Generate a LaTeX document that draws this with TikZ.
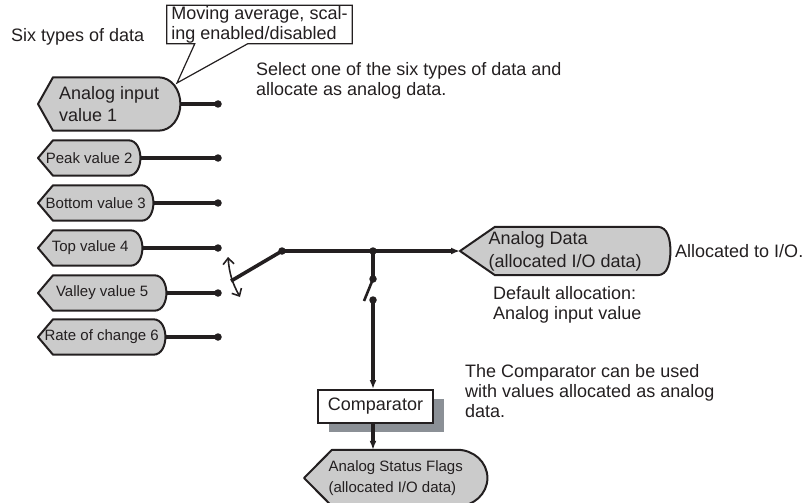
\documentclass[tikz,border=0pt]{standalone}
\usepackage{fontspec}
\setmainfont{Liberation Sans}
\usetikzlibrary{positioning,arrows.meta,calc,shadows,backgrounds}

\definecolor{ink}{HTML}{231F20}
\definecolor{tagfill}{HTML}{CBCBCB}
\definecolor{shade}{HTML}{8B9096}

% value tag: point on the left, rounded on the right
\newcommand{\tagshape}[3]{%
  \filldraw[tagline] (#1.west) -- ($(#1.north west)+(#2,0)$) -- ($(#1.north east)+(-#3,0)$)
    to[out=0,in=90] (#1.east) to[out=-90,in=0] ($(#1.south east)+(-#3,0)$)
    -- ($(#1.south west)+(#2,0)$) -- cycle;}

\begin{document}
\begin{tikzpicture}[
  x=1pt, y=1pt,
  every node/.style={font=\fontsize{18}{20}\selectfont, text=ink},
  small/.style={font=\fontsize{15}{18}\selectfont},
  tag/.style={inner sep=0pt, anchor=west, minimum height=35pt, align=center, small},
  tagline/.style={draw=ink, fill=tagfill, line width=2pt, line join=round},
  wire/.style={draw=ink, line width=3.6pt},
  dot/.style={circle, fill=ink, inner sep=0pt, minimum size=7.5pt},
  arrowtip/.style={-{Latex[length=9pt,width=7pt]}},
  txt/.style={anchor=west, align=left, inner sep=0pt}
]
\useasboundingbox (0,0) rectangle (812,-503);

% six inputs
\node[tag, minimum width=142pt, minimum height=53pt, align=left, font=\fontsize{18}{22}\selectfont] (in1) at (38,-104) {Analog input\\value 1};
\node[tag, minimum width=102pt] (in2) at (38,-158) {Peak value 2};
\node[tag, minimum width=115pt] (in3) at (38,-203) {Bottom value 3};
\node[tag, minimum width=104pt] (in4) at (38,-248) {Top value 4};
\node[tag, minimum width=128pt] (in5) at (38,-293) {Valley value 5};
\node[tag, minimum width=127pt] (in6) at (38,-337) {Rate of change 6};

\node[dot] (d1) at (218,-104) {};
\node[dot] (d2) at (218,-158) {};
\node[dot] (d3) at (218,-203) {};
\node[dot] (d4) at (218,-248) {};
\node[dot] (d5) at (218,-293) {};
\node[dot] (d6) at (218,-337) {};

% outputs
\node[tag, minimum width=210pt, minimum height=48pt, align=left, font=\fontsize{18}{23}\selectfont] (data) at (460,-251) {Analog Data\\(allocated I/O data)};
\node[draw=ink, fill=white, line width=2pt, minimum width=115pt, minimum height=33pt,
  drop shadow={shadow xshift=11pt, shadow yshift=-9pt, fill=shade, opacity=1}] (comp) at (375.5,-406.5) {Comparator};
\node[tag, minimum width=183pt, minimum height=56pt, align=left, font=\fontsize{15}{21}\selectfont] (flags) at (304,-478) {Analog Status Flags\\(allocated I/O data)};

\begin{scope}[on background layer]
  \tagshape{in1}{15}{22}
  \tagshape{in2}{15}{12}
  \tagshape{in3}{15}{12}
  \tagshape{in4}{15}{12}
  \tagshape{in5}{15}{12}
  \tagshape{in6}{15}{12}
  \tagshape{data}{35}{13}
  \tagshape{flags}{28}{30}
\end{scope}

\foreach \i in {1,...,6}
  \draw[wire] (in\i.east) -- (d\i.center);

% selector switch
\coordinate (pivot) at (231,-281);
\node[dot] (lev) at (282,-251) {};
\node[dot] (j) at (373,-251) {};
\node[dot] (s2a) at (373,-279) {};
\node[dot] (s2b) at (373,-300) {};
\coordinate (blade) at (364,-301);
\coordinate (swa) at (228,-257);
\coordinate (swb) at (240,-297);

\draw[wire] (pivot) -- (lev.center);
\draw[wire, arrowtip] (lev.center) -- (data.west);
\draw[wire] (j.center) -- (s2a.center);
\draw[draw=ink, line width=2.6pt] (s2a.center) -- (blade);
\draw[draw=ink, line width=1.6pt, {Straight Barb[length=6pt,width=11pt]}-{Straight Barb[length=6pt,width=11pt]}]
  (swa) to[bend right=12] (swb);
\draw[wire, arrowtip] (s2b.center) -- (s2b |- comp.north);
\draw[wire, arrowtip] (s2b |- comp.south) -- (s2b |- flags.north);

% notes
\node[txt] (six) at (11,-37) {Six types of data};
\node[minimum width=185pt, minimum height=38pt, inner sep=0pt, align=left, fill=white] (note) at (259.5,-24.5)
  {Moving average, scal-\\ing enabled/disabled};
\coordinate (ctip) at (177,-83);
\draw[draw=ink, line width=1.2pt, line join=miter]
  ($(note.south west)+(28,0)$) -- (ctip) -- ($(note.south west)+(81,0)$) -- (note.south east)
  -- (note.north east) -- (note.north west) -- (note.south west) -- cycle;
\node[txt] (select) at (256,-81) {Select one of the six types of data and\\allocate as analog data.};
\node[txt] (alloc) at (675,-251) {Allocated to I/O.};
\node[txt] (deflt) at (493,-305) {Default allocation:\\Analog input value};
\node[txt] (cmpnote) at (465,-391) {The Comparator can be used\\with values allocated as analog\\data.};
\end{tikzpicture}
\end{document}
